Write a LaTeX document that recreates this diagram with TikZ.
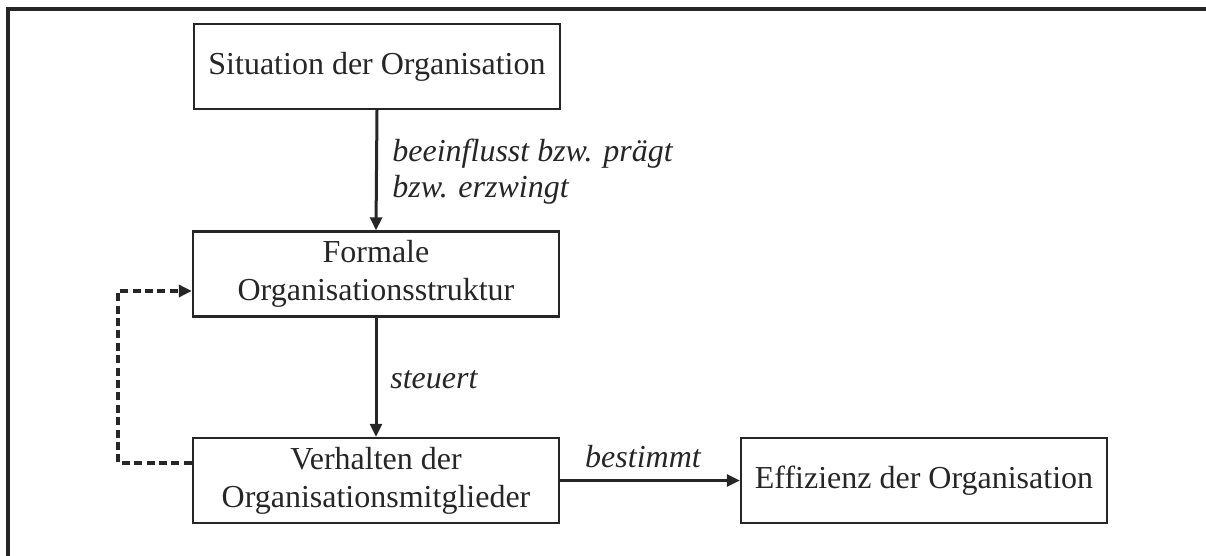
\documentclass[tikz,border=0pt]{standalone}
\usepackage{fontspec}
\setmainfont{Liberation Serif}
\usetikzlibrary{arrows.meta}
\definecolor{ink}{gray}{0.15}
\begin{document}
\begin{tikzpicture}[x=0.5pt,y=-0.5pt,
  box/.style={draw=ink,line width=1.2pt,rectangle,minimum width=183pt,minimum height=42.5pt,
    inner sep=0pt,align=center,text=ink,font=\fontsize{16}{19}\selectfont},
  link/.style={draw=ink,line width=1.5pt,-{Triangle[length=6.5pt,width=6pt]}},
  back/.style={link,line width=1.7pt,dash pattern=on 4pt off 2.2pt},
  lbl/.style={text=ink,inner sep=0pt,align=left,font=\fontsize{16}{18}\selectfont\itshape}]
  \useasboundingbox (0,0) rectangle (1206,556);
  % outer frame (top and left edges)
  \draw[ink,line width=1.8pt] (8,556) -- (8,9) -- (1206,9);
  % boxes
  \node[box] (sit) at (377,66.5) {Situation der Organisation};
  \node[box] (str) at (376,274) {Formale\\Organisationsstruktur};
  \node[box] (beh) at (376,480.5) {Verhalten der\\Organisationsmitglieder};
  \node[box] (eff) at (924,480.5) {Effizienz der Organisation};
  % influences
  \draw[link] (sit.south) -- (str.north);
  \draw[link] (str.south) -- (beh.north);
  \draw[link] (beh.east) -- (eff.west);
  % feedback loop
  \coordinate (fbL) at (118,463);
  \coordinate (fbU) at (118,291);
  \draw[back] (beh.west |- fbL) -- (fbL) -- (fbU) -- (str.west |- fbU);
  % labels
  \node[lbl,anchor=base west] (l1) at (392,198) {beeinflusst bzw. prägt\\bzw. erzwingt};
  \node[lbl,anchor=base west] (l2) at (390,388) {steuert};
  \node[lbl,anchor=base] (l3) at (643,467) {bestimmt};
\end{tikzpicture}
\end{document}
